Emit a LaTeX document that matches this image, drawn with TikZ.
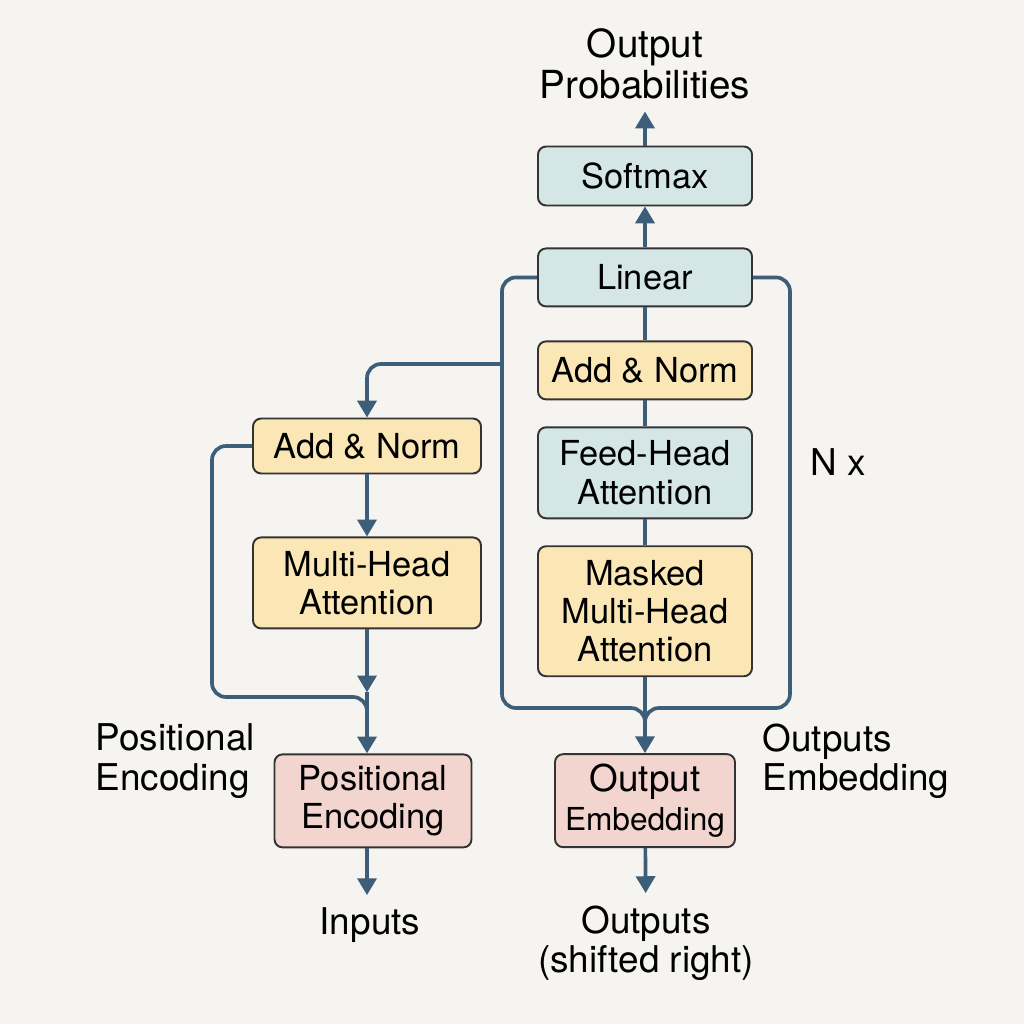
\documentclass[tikz,border=0pt]{standalone}
\usepackage{fontspec}
\setmainfont{TeX Gyre Heros}
\usepackage{xcolor}
\definecolor{bgPaper}{HTML}{F6F4F0}
\definecolor{normYellow}{HTML}{FAE7B5}
\definecolor{denseBlue}{HTML}{D5E6E6}
\definecolor{embedPink}{HTML}{F3D5CF}
\definecolor{wireBlue}{HTML}{3D5E78}
\usetikzlibrary{%
    arrows.meta,
    positioning
}

\begin{document}
\begin{tikzpicture}[x=0.1mm, y=-0.1mm, node distance=3mm,
                block/.style={rectangle, rounded corners=2.3pt, draw=black!80, line width=0.55pt, text centered, align=center, inner sep=1pt, font=\fontsize{9.8}{10.9}\selectfont},
                norm/.style={block, fill=normYellow},
                dense/.style={block, fill=denseBlue},
                embed/.style={block, fill=embedPink},
                note/.style={align=center, font=\fontsize{10.5}{11.2}\selectfont},
                wire/.style={draw=wireBlue, line width=1.05pt},
                flow/.style={wire, -{Triangle[width=5.4pt,length=4.8pt]}},
                merge/.style={wire, rounded corners=1.4mm}
            ]

            \fill[bgPaper] (0,0) rectangle (1024,1024);

            % decoder column
            \node (softmax) at (645,176) [dense, minimum width=21.4mm, minimum height=5.9mm] {Softmax};
            \node (linear) [dense, below=4.1mm of softmax, minimum width=21.4mm, minimum height=5.8mm] {Linear};
            \node (addR) [norm, below=3.3mm of linear, minimum width=21.4mm, minimum height=5.8mm] {Add \& Norm};
            \node (feed) [dense, below=2.6mm of addR, minimum width=21.4mm, minimum height=9.1mm] {Feed-Head\\Attention};
            \node (masked) [norm, below=2.6mm of feed, minimum width=21.4mm, minimum height=13mm] {Masked\\Multi-Head\\Attention};
            \node (outemb) [embed, below=7.6mm of masked, minimum width=18mm, minimum height=9.3mm] {{\fontsize{10.5}{11}\selectfont Output}\\{\fontsize{9}{10.5}\selectfont Embedding}};

            % encoder column
            \node (addL) at (367,446) [norm, minimum width=22.8mm, minimum height=5.5mm] {Add \& Norm};
            \node (mha) [norm, below=6.2mm of addL, minimum width=22.8mm, minimum height=9.1mm] {Multi-Head\\Attention};
            \node (posenc) [embed, below=12.4mm of mha, xshift=0.6mm, minimum width=19.7mm, minimum height=9.3mm] {Positional\\Encoding};

            % plain labels
            \node (probs) at (645,64) [note, font=\fontsize{11}{11.6}\selectfont] {Output\\Probabilities};
            \node (inputs) at (370,925) [note] {Inputs};
            \node (outputs) at (646,943) [note] {Outputs\\(shifted right)};
            \node (peLabel) at (95,761) [note, anchor=west, align=left, inner sep=0pt] {Positional\\Encoding};
            \node (oeLabel) at (762,761) [note, anchor=west, align=left, inner sep=0pt] {Outputs\\Embedding};
            \node (nx) at (838,462) [note] {N x};

            % loop corners
            \coordinate (loopL) at (502,708);
            \coordinate (loopR) at (790,708);
            \coordinate (joinR) at (645,735);
            \coordinate (tapL) at (502,364);
            \coordinate (loopE) at (212,697);
            \coordinate (joinL) at (367,725);
            \path (mha.south) ++(0,63) coordinate (midL);

            % decoder wires
            \draw[flow] (softmax.north) -- (probs.south);
            \draw[flow] (linear) -- (softmax);
            \draw[wire] (linear) -- (addR);
            \draw[wire] (addR) -- (feed);
            \draw[wire] (feed) -- (masked);
            \draw[flow] (masked) -- (outemb);
            \draw[flow] (outemb) -- (outputs);
            \draw[merge] (linear.west) -| (loopL) -| (joinR);
            \draw[merge] (linear.east) -| (loopR) -| (joinR);

            % encoder wires
            \draw[flow, rounded corners=1.4mm] (tapL) -| (addL.north);
            \draw[flow] (addL) -- (mha);
            \draw[flow] (mha.south) -- (midL);
            \draw[flow] (midL) -- (midL |- posenc.north);
            \draw[merge] (addL.west) -| (loopE) -| (joinL);
            \draw[flow] (posenc.south -| midL) -- (midL |- inputs.north);
        \end{tikzpicture}
\end{document}
